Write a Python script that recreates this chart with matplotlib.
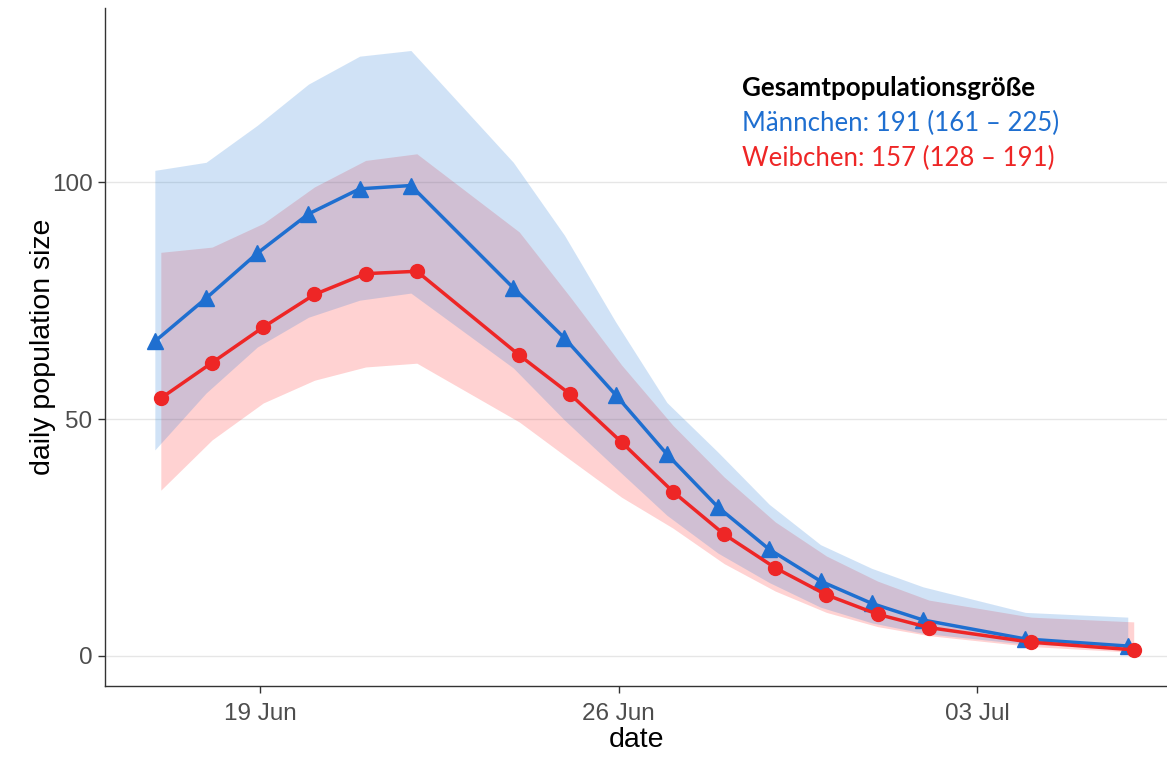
import matplotlib
matplotlib.use("Agg")
import matplotlib.pyplot as plt
import matplotlib.dates as mdates
import numpy as np
import pandas as pd

# sampling dates (no survey on 23 Jun, 3 Jul, 5 Jul)
dates = pd.to_datetime(['2019-06-17', '2019-06-18', '2019-06-19', '2019-06-20', '2019-06-21',
                        '2019-06-22', '2019-06-24', '2019-06-25', '2019-06-26', '2019-06-27',
                        '2019-06-28', '2019-06-29', '2019-06-30', '2019-07-01', '2019-07-02',
                        '2019-07-04', '2019-07-06'])

# males (Männchen)
male_mean = [66.4, 75.5, 85.0, 93.3, 98.6, 99.3, 77.7, 67.1, 55.1, 42.6, 31.4, 22.5, 15.8, 11.1, 7.6, 3.6, 2.1]
male_lo = [43.5, 55.5, 65.2, 71.5, 75.1, 76.6, 60.8, 49.8, 39.7, 29.7, 21.7, 15.5, 10.3, 7.0, 4.8, 2.5, 1.6]
male_hi = [102.5, 104.2, 112.0, 120.7, 126.6, 127.8, 104.2, 88.8, 70.5, 53.5, 43.0, 32.0, 23.5, 18.5, 14.6, 9.2, 8.2]

# females (Weibchen)
female_mean = [54.4, 61.9, 69.4, 76.3, 80.7, 81.2, 63.5, 55.2, 45.1, 34.7, 25.7, 18.6, 12.9, 8.8, 6.0, 2.9, 1.3]
female_lo = [35.0, 45.6, 53.4, 58.2, 61.0, 61.8, 49.4, 41.4, 33.5, 27.0, 19.5, 13.7, 9.2, 6.2, 4.3, 2.0, 0.8]
female_hi = [85.2, 86.3, 91.3, 99.0, 104.6, 106.0, 89.5, 75.7, 61.4, 48.7, 37.8, 28.3, 21.1, 15.8, 11.8, 8.2, 7.2]

y_ticks = [0, 50, 100]
x_ticks = pd.to_datetime(['2019-06-19', '2019-06-26', '2019-07-03'])

title_text = 'Gesamtpopulationsgröße'
male_text = 'Männchen: 191 (161 – 225)'
female_text = 'Weibchen: 157 (128 – 191)'

blue = '#1f6fd0'
red = '#ee2626'
dodge = pd.Timedelta(hours=1.4)

fig = plt.figure(figsize=(11.67, 7.57), dpi=100)
ax = fig.add_axes([0.09, 0.094, 0.91, 0.895])

x_m = dates - dodge
x_f = dates + dodge
ax.fill_between(x_f, female_lo, female_hi, color='#ff2020', alpha=0.2, lw=0, zorder=1)
ax.fill_between(x_m, male_lo, male_hi, color='#2a7fd8', alpha=0.22, lw=0, zorder=2)
ax.plot(x_m, male_mean, color=blue, lw=2.5, marker='^', ms=12, zorder=4)
ax.plot(x_f, female_mean, color=red, lw=2.5, marker='o', ms=10, zorder=5)

ax.set_ylim(-6.3, 136.7)
ax.set_xlim(pd.Timestamp('2019-06-15 23:15'), pd.Timestamp('2019-07-06 17:00'))
ax.set_yticks(y_ticks)
ax.set_xticks(x_ticks)
ax.xaxis.set_major_formatter(mdates.DateFormatter('%d %b'))
ax.yaxis.grid(True, color='#e6e6e6', lw=1)
ax.set_axisbelow(True)
for s in ['top', 'right']:
    ax.spines[s].set_visible(False)
for s in ['left', 'bottom']:
    ax.spines[s].set_color('#333333')
    ax.spines[s].set_linewidth(1.0)
ax.tick_params(axis='both', length=5, width=1, color='#333333', labelcolor='#4d4d4d',
               labelsize=17.5, pad=4)
ax.tick_params(axis='x', pad=7)
for lab in ax.get_xticklabels() + ax.get_yticklabels():
    lab.set_family('Liberation Sans')

ax.set_xlabel('date', fontsize=20.5, family='Liberation Sans', labelpad=2)
ax.set_ylabel('daily population size', fontsize=20.5, family='Liberation Sans')
ax.yaxis.set_label_coords(-0.046, 0.5)

ax.text(0.6, 0.882, title_text, transform=ax.transAxes, fontsize=18.7, family='Lato',
        fontweight='bold', color='black', va='center', ha='left')
ax.text(0.6, 0.83, male_text, transform=ax.transAxes, fontsize=18.5, family='Lato',
        color=blue, va='center', ha='left')
ax.text(0.6, 0.779, female_text, transform=ax.transAxes, fontsize=18.5, family='Lato',
        color=red, va='center', ha='left')

fig.savefig('out.png', dpi=100, facecolor='white')
